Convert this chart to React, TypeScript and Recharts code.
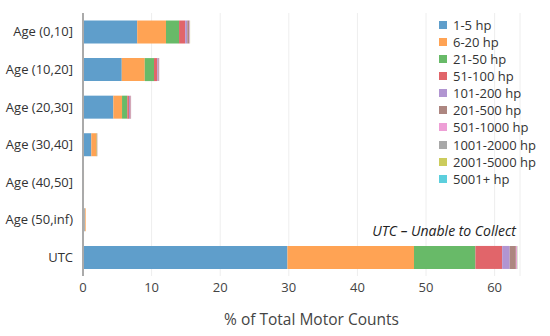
import React from "react";
import { BarChart, Bar, XAxis, YAxis, CartesianGrid } from "recharts";

const categories = ["Age (0,10]", "Age (10,20]", "Age (20,30]", "Age (30,40]", "Age (40,50]", "Age (50,inf)", "UTC"];
const seriesNames = ["1-5 hp", "6-20 hp", "21-50 hp", "51-100 hp", "101-200 hp", "201-500 hp", "501-1000 hp", "1001-2000 hp", "2001-5000 hp", "5001+ hp"];
const colors = ["#5f9ecb", "#ffa354", "#68ba68", "#e1656a", "#b195d1", "#ad8680", "#ee9fd6", "#a8a8a8", "#cccc5c", "#5ccfdd"];

const hp1to5 = [7.9, 5.65, 4.42, 1.21, 0.03, 0.25, 29.8];
const hp6to20 = [4.2, 3.35, 1.27, 0.79, 0.12, 0.14, 18.45];
const hp21to50 = [1.9, 1.35, 0.77, 0.05, 0, 0, 8.95];
const hp51to100 = [0.9, 0.48, 0.24, 0.03, 0, 0, 3.9];
const hp101to200 = [0.3, 0.17, 0.15, 0.01, 0, 0, 1.1];
const hp201to500 = [0.25, 0.08, 0.1, 0, 0, 0, 0.9];
const hp501to1000 = [0.1, 0.03, 0.05, 0, 0, 0, 0.15];
const hp1001to2000 = [0.05, 0.01, 0.01, 0, 0, 0, 0.05];
const hp2001to5000 = [0.01, 0, 0, 0, 0, 0, 0.02];
const hp5001plus = [0, 0, 0, 0, 0, 0, 0.01];

const seriesValues = [hp1to5, hp6to20, hp21to50, hp51to100, hp101to200, hp201to500, hp501to1000, hp1001to2000, hp2001to5000, hp5001plus];
const xTicks = [0, 10, 20, 30, 40, 50, 60];

const data = categories.map((c, i) => {
  const row: Record<string, number | string> = { name: c };
  seriesNames.forEach((s, k) => {
    row[s] = seriesValues[k][i];
  });
  return row;
});

const font = "'Open Sans', 'DejaVu Sans', sans-serif";

export default function App() {
  return (
    <div style={{ position: "absolute", left: 0, top: 0, width: 550, height: 336, background: "#fff", fontFamily: font }}>
      <BarChart
        width={550}
        height={336}
        data={data}
        layout="vertical"
        margin={{ top: 13, right: 30, bottom: 30, left: 0 }}
        barCategoryGap="20%"
      >
        <CartesianGrid horizontal={false} stroke="#eeeeee" />
        <XAxis
          type="number"
          domain={[0, 63.7]}
          ticks={xTicks}
          axisLine={false}
          tickLine={false}
          tick={{ fill: "#444", fontSize: 13, fontFamily: font }}
          tickMargin={1}
          height={30}
          label={{ value: "% of Total Motor Counts", position: "insideBottom", offset: -19, dx: 10, fill: "#444", fontSize: 15.5, fontFamily: font }}
        />
        <YAxis
          type="category"
          dataKey="name"
          width={83}
          axisLine={{ stroke: "#aaaaaa", strokeWidth: 2 }}
          tickLine={false}
          tick={{ fill: "#333", fontSize: 13, fontFamily: font }}
          tickMargin={4}
        />
        {seriesNames.map((s, k) => (
          <Bar key={s} dataKey={s} stackId="a" fill={colors[k]} isAnimationActive={false} />
        ))}
      </BarChart>
      <div style={{ position: "absolute", left: 439, top: 16, fontFamily: font, fontSize: 13, color: "#333" }}>
        {seriesNames.map((s, k) => (
          <div key={s} style={{ display: "flex", alignItems: "center", height: 17.15 }}>
            <span style={{ display: "inline-block", width: 8, height: 8, background: colors[k], marginRight: 6 }} />
            <span>{s}</span>
          </div>
        ))}
      </div>
      <div
        style={{
          position: "absolute",
          right: 34,
          top: 221,
          fontStyle: "italic",
          fontSize: 14,
          color: "#222",
          fontFamily: font,
          whiteSpace: "nowrap",
        }}
      >
        UTC – Unable to Collect
      </div>
    </div>
  );
}
